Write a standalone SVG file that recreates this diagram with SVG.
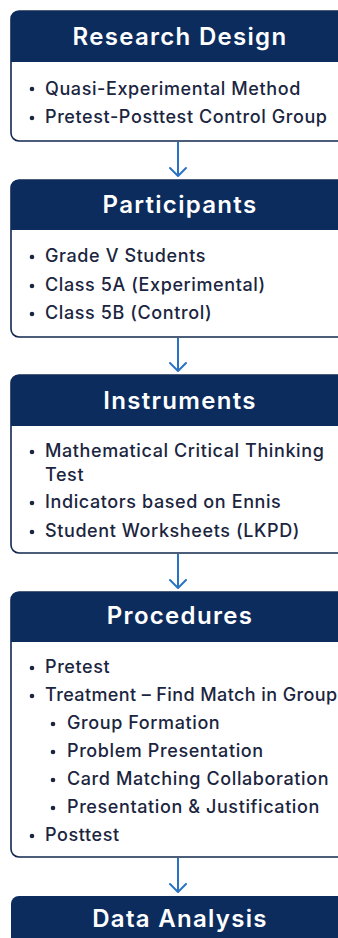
<svg xmlns="http://www.w3.org/2000/svg" width="338" height="938" viewBox="0 0 338 938">
  <style>
    .box { fill: #ffffff; stroke: #12284f; stroke-width: 1.6; }
    .head { fill: #0c2c5e; }
    .title { font-family: Inter, "Noto Sans", sans-serif; font-weight: 600; font-size: 24px; letter-spacing: 1.3px; fill: #ffffff; text-anchor: middle; }
    .item { font-family: Inter, "Noto Sans", sans-serif; font-weight: 500; font-size: 18px; letter-spacing: 0.6px; fill: #1b2540; }
    .tight { letter-spacing: 0.4px; }
    .dot { fill: #1b2540; }
    .conn { stroke: #2a72c4; stroke-width: 2; fill: none; }
  </style>
  <defs>
    <marker id="chev" viewBox="0 0 12 18" refX="10" refY="9" markerWidth="12" markerHeight="18" markerUnits="userSpaceOnUse" orient="auto">
      <path d="M2 1 L10 9 L2 17" fill="none" stroke="#2a72c4" stroke-width="2" stroke-linecap="round" stroke-linejoin="round"/>
    </marker>
  </defs>
  <rect width="338" height="938" fill="#ffffff"/>

  <!-- Research Design -->
  <g id="research-design">
    <rect class="box" x="11" y="11" width="338" height="130" rx="8"/>
    <path class="head" d="M11 62 V19 a8 8 0 0 1 8 -8 H349 V62 Z"/>
    <text class="title" x="180" y="45">Research Design</text>
    <circle class="dot" cx="32" cy="89" r="2.3"/>
    <text class="item" x="45" y="94.5">Quasi-Experimental Method</text>
    <circle class="dot" cx="32" cy="118" r="2.3"/>
    <text class="item" x="45" y="123">Pretest-Posttest Control Group</text>
  </g>

  <!-- Participants -->
  <g id="participants">
    <rect class="box" x="11" y="180" width="338" height="157" rx="8"/>
    <path class="head" d="M11 230 V188 a8 8 0 0 1 8 -8 H349 V230 Z"/>
    <text class="title" x="180" y="213">Participants</text>
    <circle class="dot" cx="32" cy="257" r="2.3"/>
    <text class="item" x="45" y="262">Grade V Students</text>
    <circle class="dot" cx="32" cy="286" r="2.3"/>
    <text class="item" x="45" y="291">Class 5A (Experimental)</text>
    <circle class="dot" cx="32" cy="314" r="2.3"/>
    <text class="item" x="45" y="319">Class 5B (Control)</text>
  </g>

  <!-- Instruments -->
  <g id="instruments">
    <rect class="box" x="11" y="375" width="338" height="178" rx="8"/>
    <path class="head" d="M11 426 V383 a8 8 0 0 1 8 -8 H349 V426 Z"/>
    <text class="title" x="180" y="409">Instruments</text>
    <circle class="dot" cx="32" cy="452" r="2.3"/>
    <text class="item" x="45" y="457">Mathematical Critical Thinking</text>
    <text class="item" x="45" y="481">Test</text>
    <circle class="dot" cx="32" cy="503" r="2.3"/>
    <text class="item" x="45" y="508">Indicators based on Ennis</text>
    <circle class="dot" cx="32" cy="532" r="2.3"/>
    <text class="item" x="45" y="537">Student Worksheets (LKPD)</text>
  </g>

  <!-- Procedures -->
  <g id="procedures">
    <rect class="box" x="11" y="592" width="338" height="265" rx="8"/>
    <path class="head" d="M11 642 V600 a8 8 0 0 1 8 -8 H349 V642 Z"/>
    <text class="title" x="180" y="624">Procedures</text>
    <circle class="dot" cx="32" cy="668" r="2.3"/>
    <text class="item" x="45" y="673">Pretest</text>
    <circle class="dot" cx="32" cy="696" r="2.3"/>
    <text class="item tight" x="45" y="701">Treatment – Find Match in Group</text>
    <circle class="dot" cx="53" cy="724" r="2.3"/>
    <text class="item" x="67" y="729">Group Formation</text>
    <circle class="dot" cx="53" cy="752" r="2.3"/>
    <text class="item" x="67" y="757">Problem Presentation</text>
    <circle class="dot" cx="53" cy="780" r="2.3"/>
    <text class="item" x="67" y="785">Card Matching Collaboration</text>
    <circle class="dot" cx="53" cy="808" r="2.3"/>
    <text class="item" x="67" y="813">Presentation &amp; Justification</text>
    <circle class="dot" cx="32" cy="836" r="2.3"/>
    <text class="item" x="45" y="841">Posttest</text>
  </g>

  <!-- Data Analysis -->
  <g id="data-analysis">
    <path class="head" d="M11 946 V904 a8 8 0 0 1 8 -8 H349 V946 Z"/>
    <text class="title" x="180" y="927">Data Analysis</text>
  </g>

  <!-- Connectors -->
  <g id="connectors">
    <line class="conn" x1="178" y1="142" x2="178" y2="176" marker-end="url(#chev)"/>
    <line class="conn" x1="178" y1="338" x2="178" y2="371" marker-end="url(#chev)"/>
    <line class="conn" x1="178" y1="554" x2="178" y2="588" marker-end="url(#chev)"/>
    <line class="conn" x1="178" y1="858" x2="178" y2="892" marker-end="url(#chev)"/>
  </g>
</svg>
